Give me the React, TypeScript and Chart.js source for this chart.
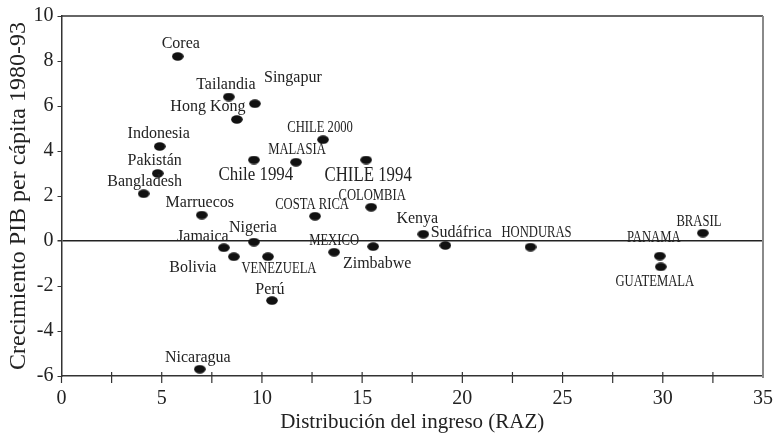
import React, { useEffect, useRef } from "react";
import { Chart, registerables } from "chart.js";

Chart.register(...registerables);

// ---- Data ----
const countries = [
  "Corea", "Tailandia", "Singapur", "Hong Kong", "Indonesia", "Pakistán", "Bangladesh",
  "Chile 1994", "MALASIA", "CHILE 2000", "CHILE 1994", "Marruecos", "COSTA RICA", "COLOMBIA",
  "Kenya", "Sudáfrica", "HONDURAS", "PANAMA", "GUATEMALA", "BRASIL", "Jamaica", "Nigeria",
  "Bolivia", "VENEZUELA", "MEXICO", "Zimbabwe", "Perú", "Nicaragua",
];
const raz = [
  5.8, 8.35, 9.65, 8.75, 4.9, 4.8, 4.1,
  9.6, 11.7, 13.05, 15.2, 7.0, 12.65, 15.45,
  18.05, 19.15, 23.4, 29.85, 29.9, 32.0, 8.1, 9.6,
  8.6, 10.3, 13.6, 15.55, 10.5, 6.9,
];
const growth = [
  8.2, 6.4, 6.1, 5.4, 4.2, 3.0, 2.1,
  3.6, 3.5, 4.5, 3.6, 1.15, 1.1, 1.5,
  0.3, -0.2, -0.27, -0.67, -1.15, 0.35, -0.3, -0.05,
  -0.7, -0.7, -0.5, -0.25, -2.65, -5.7,
];
const xTitle = "Distribución del ingreso (RAZ)";
const yTitle = "Crecimiento PIB per cápita 1980-93";

// ---- Label layout (pixel offsets of label centre from the dot, and style kind) ----
const labelOffsets: [number, number][] = [
  [3, -13], [-3, -12], [38, -26], [-29, -13], [-1, -13], [-3, -13], [1, -12],
  [2, 15], [1, -12], [-3, -12], [2, 15], [-2, -12], [-3, -11], [1, -11],
  [-6, -15], [16, -13], [6, -14], [-6, -18], [-6, 15], [-4, -11], [-21, -11], [-1, -14],
  [-41, 11], [11, 12], [0, -11], [4, 17], [-2, -11], [-2, -11],
];
const labelKinds = [
  "m", "m", "m", "m", "m", "m", "m",
  "big", "u", "u", "bigU", "m", "u", "u",
  "m", "m", "u", "u", "u", "u", "m", "m",
  "m", "u", "u", "m", "m", "m",
];

const FONT = "'Liberation Serif', 'Times New Roman', serif";
const TEXT = "#222";

function makeDot(): HTMLCanvasElement {
  const c = document.createElement("canvas");
  c.width = 12;
  c.height = 9;
  const g = c.getContext("2d")!;
  g.fillStyle = "#111";
  g.beginPath();
  g.ellipse(6, 4.5, 5.8, 4.2, 0, 0, Math.PI * 2);
  g.fill();
  return c;
}

const framePlugin = {
  id: "frame",
  afterDraw(chart: any) {
    const { ctx, chartArea, scales } = chart;
    const xs = scales.x;
    ctx.save();
    // top border
    ctx.strokeStyle = "#333";
    ctx.lineWidth = 1.5;
    ctx.beginPath();
    ctx.moveTo(chartArea.left, chartArea.top);
    ctx.lineTo(chartArea.right, chartArea.top);
    ctx.stroke();
    // right border
    ctx.strokeStyle = "#8a8a8a";
    ctx.lineWidth = 2;
    ctx.beginPath();
    ctx.moveTo(chartArea.right, chartArea.top);
    ctx.lineTo(chartArea.right, chartArea.bottom + 2);
    ctx.stroke();
    // crossing x tick marks (major and minor)
    ctx.strokeStyle = "#333";
    ctx.lineWidth = 1.2;
    for (let v = xs.min; v < xs.max - 0.01; v += 2.5) {
      const px = xs.getPixelForValue(v);
      ctx.beginPath();
      ctx.moveTo(px, v === xs.min ? chartArea.bottom : chartArea.bottom - 4);
      ctx.lineTo(px, chartArea.bottom + 7);
      ctx.stroke();
    }
    ctx.restore();
  },
};

const labelPlugin = {
  id: "pointLabels",
  afterDatasetsDraw(chart: any) {
    const { ctx } = chart;
    const meta = chart.getDatasetMeta(0);
    ctx.save();
    ctx.fillStyle = TEXT;
    ctx.textAlign = "center";
    ctx.textBaseline = "middle";
    meta.data.forEach((el: any, i: number) => {
      const [dx, dy] = labelOffsets[i];
      const kind = labelKinds[i];
      let size = 16;
      let sx = 1;
      if (kind === "u") { size = 16; sx = 0.79; }
      if (kind === "big") { size = 19; sx = 0.89; }
      if (kind === "bigU") { size = 21; sx = 0.8; }
      ctx.font = `${size}px ${FONT}`;
      ctx.save();
      ctx.translate(el.x + dx, el.y + dy);
      ctx.scale(sx, 1);
      ctx.fillText(countries[i], 0, 0);
      ctx.restore();
    });
    ctx.restore();
  },
};

export default function App() {
  const ref = useRef<HTMLCanvasElement | null>(null);
  useEffect(() => {
    if (!ref.current) return;
    const dot = makeDot();
    const points = raz.map((x, i) => ({ x, y: growth[i] }));
    const chart = new Chart(ref.current, {
      type: "scatter",
      data: {
        datasets: [
          {
            data: points,
            pointStyle: dot as any,
            pointRadius: 6,
            backgroundColor: "#111",
            borderColor: "#111",
          },
        ],
      },
      options: {
        animation: false,
        responsive: false,
        devicePixelRatio: 1,
        events: [],
        layout: { padding: { top: 16, right: 9.5, left: 0, bottom: 0 } },
        plugins: { legend: { display: false }, tooltip: { enabled: false } },
        scales: {
          x: {
            type: "linear",
            min: 0,
            max: 35,
            afterFit: (s: any) => { s.height = 65; },
            ticks: {
              stepSize: 5,
              color: TEXT,
              padding: 0,
              font: { family: FONT, size: 20 },
            },
            grid: {
              display: true,
              drawOnChartArea: false,
              drawTicks: true,
              tickLength: 11,
              tickColor: "rgba(0,0,0,0)",
            },
            border: { display: true, color: "#333", width: 1.5 },
            title: {
              display: true,
              text: xTitle,
              color: TEXT,
              font: { family: FONT, size: 21 },
              padding: { top: 0, bottom: 6 },
            },
          },
          y: {
            type: "linear",
            min: -6,
            max: 10,
            afterFit: (s: any) => { s.width = 61.5; },
            ticks: {
              stepSize: 2,
              color: TEXT,
              padding: 4,
              font: { family: FONT, size: 20 },
            },
            grid: {
              drawOnChartArea: true,
              drawTicks: true,
              tickLength: 4,
              tickColor: "#333",
              color: (c: any) => (c.tick && c.tick.value === 0 ? "#222" : "rgba(0,0,0,0)"),
              lineWidth: (c: any) => (c.tick && c.tick.value === 0 ? 1.5 : 1),
            },
            border: { display: true, color: "#333", width: 1.5 },
            title: {
              display: true,
              text: yTitle,
              color: TEXT,
              font: { family: FONT, size: 24 },
              padding: { top: 4, bottom: 0 },
            },
          },
        },
      },
      plugins: [framePlugin, labelPlugin],
    });
    return () => chart.destroy();
  }, []);
  return (
    <div style={{ position: "absolute", left: 0, top: 0, width: 773, height: 441, background: "#fff" }}>
      <canvas ref={ref} width={773} height={441} style={{ display: "block" }} />
    </div>
  );
}
